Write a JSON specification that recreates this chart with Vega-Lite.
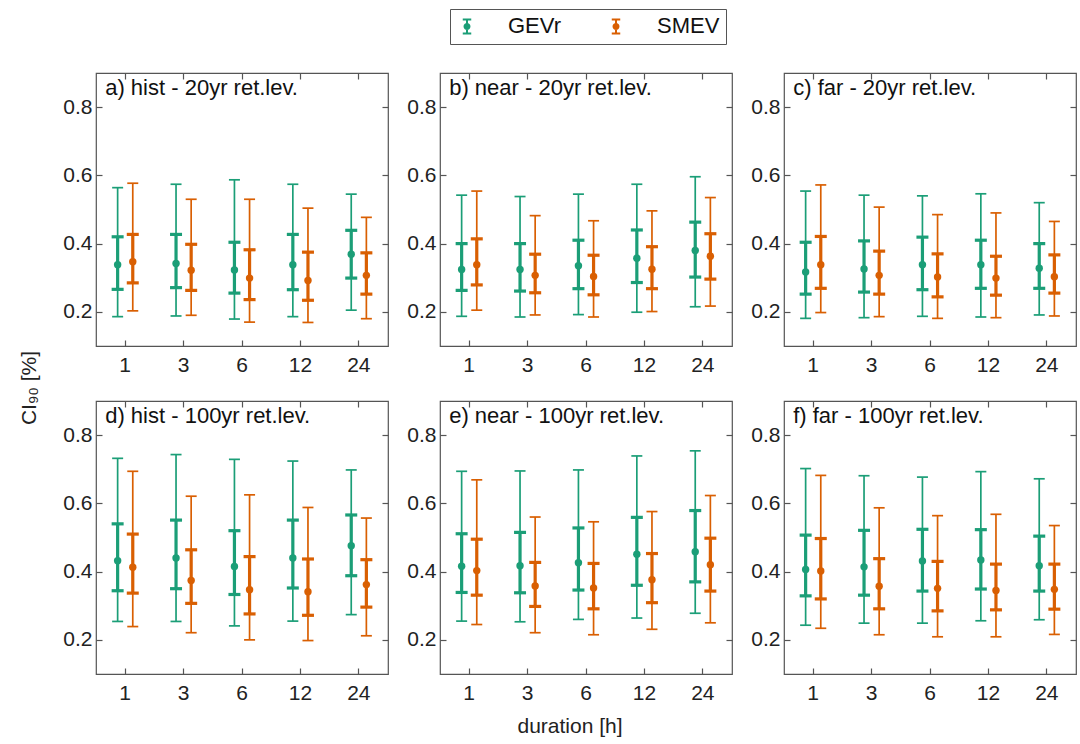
{
  "$schema": "https://vega.github.io/schema/vega-lite/v6.json",
  "background": "white",
  "padding": {"left": 19, "top": 8, "right": 5, "bottom": 5},
  "data": {"values": [
    {"period":"hist","rl":"20yr","panel":"a) hist - 20yr ret.lev.","d":"1","model":"GEVr","lo":0.186,"q1":0.266,"med":0.338,"q3":0.420,"hi":0.564},
    {"period":"hist","rl":"20yr","panel":"a) hist - 20yr ret.lev.","d":"1","model":"SMEV","lo":0.203,"q1":0.285,"med":0.347,"q3":0.427,"hi":0.577},
    {"period":"hist","rl":"20yr","panel":"a) hist - 20yr ret.lev.","d":"3","model":"GEVr","lo":0.188,"q1":0.271,"med":0.342,"q3":0.427,"hi":0.574},
    {"period":"hist","rl":"20yr","panel":"a) hist - 20yr ret.lev.","d":"3","model":"SMEV","lo":0.190,"q1":0.263,"med":0.322,"q3":0.398,"hi":0.530},
    {"period":"hist","rl":"20yr","panel":"a) hist - 20yr ret.lev.","d":"6","model":"GEVr","lo":0.179,"q1":0.255,"med":0.323,"q3":0.404,"hi":0.587},
    {"period":"hist","rl":"20yr","panel":"a) hist - 20yr ret.lev.","d":"6","model":"SMEV","lo":0.170,"q1":0.236,"med":0.299,"q3":0.382,"hi":0.530},
    {"period":"hist","rl":"20yr","panel":"a) hist - 20yr ret.lev.","d":"12","model":"GEVr","lo":0.186,"q1":0.265,"med":0.338,"q3":0.427,"hi":0.574},
    {"period":"hist","rl":"20yr","panel":"a) hist - 20yr ret.lev.","d":"12","model":"SMEV","lo":0.169,"q1":0.234,"med":0.292,"q3":0.375,"hi":0.504},
    {"period":"hist","rl":"20yr","panel":"a) hist - 20yr ret.lev.","d":"24","model":"GEVr","lo":0.205,"q1":0.299,"med":0.369,"q3":0.439,"hi":0.545},
    {"period":"hist","rl":"20yr","panel":"a) hist - 20yr ret.lev.","d":"24","model":"SMEV","lo":0.180,"q1":0.252,"med":0.307,"q3":0.373,"hi":0.477},

    {"period":"near","rl":"20yr","panel":"b) near - 20yr ret.lev.","d":"1","model":"GEVr","lo":0.187,"q1":0.263,"med":0.324,"q3":0.400,"hi":0.542},
    {"period":"near","rl":"20yr","panel":"b) near - 20yr ret.lev.","d":"1","model":"SMEV","lo":0.205,"q1":0.279,"med":0.338,"q3":0.414,"hi":0.554},
    {"period":"near","rl":"20yr","panel":"b) near - 20yr ret.lev.","d":"3","model":"GEVr","lo":0.185,"q1":0.261,"med":0.324,"q3":0.400,"hi":0.538},
    {"period":"near","rl":"20yr","panel":"b) near - 20yr ret.lev.","d":"3","model":"SMEV","lo":0.191,"q1":0.256,"med":0.307,"q3":0.369,"hi":0.482},
    {"period":"near","rl":"20yr","panel":"b) near - 20yr ret.lev.","d":"6","model":"GEVr","lo":0.192,"q1":0.268,"med":0.335,"q3":0.410,"hi":0.545},
    {"period":"near","rl":"20yr","panel":"b) near - 20yr ret.lev.","d":"6","model":"SMEV","lo":0.185,"q1":0.250,"med":0.304,"q3":0.366,"hi":0.467},
    {"period":"near","rl":"20yr","panel":"b) near - 20yr ret.lev.","d":"12","model":"GEVr","lo":0.199,"q1":0.286,"med":0.357,"q3":0.440,"hi":0.574},
    {"period":"near","rl":"20yr","panel":"b) near - 20yr ret.lev.","d":"12","model":"SMEV","lo":0.201,"q1":0.268,"med":0.325,"q3":0.391,"hi":0.496},
    {"period":"near","rl":"20yr","panel":"b) near - 20yr ret.lev.","d":"24","model":"GEVr","lo":0.215,"q1":0.302,"med":0.380,"q3":0.463,"hi":0.596},
    {"period":"near","rl":"20yr","panel":"b) near - 20yr ret.lev.","d":"24","model":"SMEV","lo":0.217,"q1":0.296,"med":0.363,"q3":0.429,"hi":0.535},

    {"period":"far","rl":"20yr","panel":"c) far - 20yr ret.lev.","d":"1","model":"GEVr","lo":0.181,"q1":0.252,"med":0.317,"q3":0.404,"hi":0.554},
    {"period":"far","rl":"20yr","panel":"c) far - 20yr ret.lev.","d":"1","model":"SMEV","lo":0.198,"q1":0.269,"med":0.338,"q3":0.421,"hi":0.572},
    {"period":"far","rl":"20yr","panel":"c) far - 20yr ret.lev.","d":"3","model":"GEVr","lo":0.183,"q1":0.258,"med":0.326,"q3":0.408,"hi":0.542},
    {"period":"far","rl":"20yr","panel":"c) far - 20yr ret.lev.","d":"3","model":"SMEV","lo":0.186,"q1":0.252,"med":0.307,"q3":0.378,"hi":0.507},
    {"period":"far","rl":"20yr","panel":"c) far - 20yr ret.lev.","d":"6","model":"GEVr","lo":0.187,"q1":0.265,"med":0.338,"q3":0.419,"hi":0.540},
    {"period":"far","rl":"20yr","panel":"c) far - 20yr ret.lev.","d":"6","model":"SMEV","lo":0.181,"q1":0.244,"med":0.302,"q3":0.370,"hi":0.485},
    {"period":"far","rl":"20yr","panel":"c) far - 20yr ret.lev.","d":"12","model":"GEVr","lo":0.185,"q1":0.269,"med":0.338,"q3":0.410,"hi":0.546},
    {"period":"far","rl":"20yr","panel":"c) far - 20yr ret.lev.","d":"12","model":"SMEV","lo":0.183,"q1":0.249,"med":0.299,"q3":0.363,"hi":0.490},
    {"period":"far","rl":"20yr","panel":"c) far - 20yr ret.lev.","d":"24","model":"GEVr","lo":0.191,"q1":0.269,"med":0.328,"q3":0.400,"hi":0.520},
    {"period":"far","rl":"20yr","panel":"c) far - 20yr ret.lev.","d":"24","model":"SMEV","lo":0.188,"q1":0.255,"med":0.303,"q3":0.367,"hi":0.465},

    {"period":"hist","rl":"100yr","panel":"d) hist - 100yr ret.lev.","d":"1","model":"GEVr","lo":0.254,"q1":0.344,"med":0.432,"q3":0.540,"hi":0.732},
    {"period":"hist","rl":"100yr","panel":"d) hist - 100yr ret.lev.","d":"1","model":"SMEV","lo":0.239,"q1":0.337,"med":0.413,"q3":0.510,"hi":0.694},
    {"period":"hist","rl":"100yr","panel":"d) hist - 100yr ret.lev.","d":"3","model":"GEVr","lo":0.254,"q1":0.350,"med":0.440,"q3":0.551,"hi":0.743},
    {"period":"hist","rl":"100yr","panel":"d) hist - 100yr ret.lev.","d":"3","model":"SMEV","lo":0.221,"q1":0.307,"med":0.374,"q3":0.464,"hi":0.621},
    {"period":"hist","rl":"100yr","panel":"d) hist - 100yr ret.lev.","d":"6","model":"GEVr","lo":0.241,"q1":0.333,"med":0.415,"q3":0.520,"hi":0.729},
    {"period":"hist","rl":"100yr","panel":"d) hist - 100yr ret.lev.","d":"6","model":"SMEV","lo":0.200,"q1":0.276,"med":0.347,"q3":0.444,"hi":0.625},
    {"period":"hist","rl":"100yr","panel":"d) hist - 100yr ret.lev.","d":"12","model":"GEVr","lo":0.255,"q1":0.352,"med":0.440,"q3":0.551,"hi":0.724},
    {"period":"hist","rl":"100yr","panel":"d) hist - 100yr ret.lev.","d":"12","model":"SMEV","lo":0.198,"q1":0.272,"med":0.341,"q3":0.437,"hi":0.588},
    {"period":"hist","rl":"100yr","panel":"d) hist - 100yr ret.lev.","d":"24","model":"GEVr","lo":0.274,"q1":0.388,"med":0.476,"q3":0.566,"hi":0.698},
    {"period":"hist","rl":"100yr","panel":"d) hist - 100yr ret.lev.","d":"24","model":"SMEV","lo":0.212,"q1":0.296,"med":0.362,"q3":0.435,"hi":0.557},

    {"period":"near","rl":"100yr","panel":"e) near - 100yr ret.lev.","d":"1","model":"GEVr","lo":0.255,"q1":0.339,"med":0.416,"q3":0.511,"hi":0.694},
    {"period":"near","rl":"100yr","panel":"e) near - 100yr ret.lev.","d":"1","model":"SMEV","lo":0.245,"q1":0.331,"med":0.403,"q3":0.495,"hi":0.669},
    {"period":"near","rl":"100yr","panel":"e) near - 100yr ret.lev.","d":"3","model":"GEVr","lo":0.253,"q1":0.338,"med":0.417,"q3":0.515,"hi":0.695},
    {"period":"near","rl":"100yr","panel":"e) near - 100yr ret.lev.","d":"3","model":"SMEV","lo":0.221,"q1":0.298,"med":0.358,"q3":0.427,"hi":0.560},
    {"period":"near","rl":"100yr","panel":"e) near - 100yr ret.lev.","d":"6","model":"GEVr","lo":0.260,"q1":0.346,"med":0.426,"q3":0.528,"hi":0.698},
    {"period":"near","rl":"100yr","panel":"e) near - 100yr ret.lev.","d":"6","model":"SMEV","lo":0.215,"q1":0.291,"med":0.352,"q3":0.424,"hi":0.546},
    {"period":"near","rl":"100yr","panel":"e) near - 100yr ret.lev.","d":"12","model":"GEVr","lo":0.264,"q1":0.360,"med":0.451,"q3":0.559,"hi":0.739},
    {"period":"near","rl":"100yr","panel":"e) near - 100yr ret.lev.","d":"12","model":"SMEV","lo":0.231,"q1":0.309,"med":0.376,"q3":0.453,"hi":0.576},
    {"period":"near","rl":"100yr","panel":"e) near - 100yr ret.lev.","d":"24","model":"GEVr","lo":0.278,"q1":0.370,"med":0.458,"q3":0.579,"hi":0.754},
    {"period":"near","rl":"100yr","panel":"e) near - 100yr ret.lev.","d":"24","model":"SMEV","lo":0.250,"q1":0.343,"med":0.420,"q3":0.498,"hi":0.623},

    {"period":"far","rl":"100yr","panel":"f) far - 100yr ret.lev.","d":"1","model":"GEVr","lo":0.243,"q1":0.329,"med":0.406,"q3":0.507,"hi":0.702},
    {"period":"far","rl":"100yr","panel":"f) far - 100yr ret.lev.","d":"1","model":"SMEV","lo":0.234,"q1":0.320,"med":0.402,"q3":0.497,"hi":0.682},
    {"period":"far","rl":"100yr","panel":"f) far - 100yr ret.lev.","d":"3","model":"GEVr","lo":0.249,"q1":0.331,"med":0.414,"q3":0.521,"hi":0.681},
    {"period":"far","rl":"100yr","panel":"f) far - 100yr ret.lev.","d":"3","model":"SMEV","lo":0.215,"q1":0.291,"med":0.357,"q3":0.438,"hi":0.587},
    {"period":"far","rl":"100yr","panel":"f) far - 100yr ret.lev.","d":"6","model":"GEVr","lo":0.249,"q1":0.343,"med":0.431,"q3":0.524,"hi":0.677},
    {"period":"far","rl":"100yr","panel":"f) far - 100yr ret.lev.","d":"6","model":"SMEV","lo":0.209,"q1":0.285,"med":0.351,"q3":0.430,"hi":0.564},
    {"period":"far","rl":"100yr","panel":"f) far - 100yr ret.lev.","d":"12","model":"GEVr","lo":0.256,"q1":0.349,"med":0.434,"q3":0.523,"hi":0.693},
    {"period":"far","rl":"100yr","panel":"f) far - 100yr ret.lev.","d":"12","model":"SMEV","lo":0.209,"q1":0.288,"med":0.345,"q3":0.422,"hi":0.568},
    {"period":"far","rl":"100yr","panel":"f) far - 100yr ret.lev.","d":"24","model":"GEVr","lo":0.259,"q1":0.343,"med":0.417,"q3":0.504,"hi":0.672},
    {"period":"far","rl":"100yr","panel":"f) far - 100yr ret.lev.","d":"24","model":"SMEV","lo":0.216,"q1":0.290,"med":0.348,"q3":0.422,"hi":0.535}
  ]},
  "facet": {
    "row": {"field": "rl", "type": "nominal", "sort": ["20yr", "100yr"],
      "header": {"labels": false, "title": "CI₉₀ [%]", "titleFontSize": 21, "titleFont": "Liberation Sans", "titleFontWeight": "normal", "titleColor": "#222", "titlePadding": 12}},
    "column": {"field": "period", "type": "nominal", "sort": ["hist", "near", "far"],
      "header": {"labels": false, "title": "duration [h]", "titleOrient": "bottom", "titleFontSize": 21, "titleFont": "Liberation Sans", "titleFontWeight": "normal", "titleColor": "#222", "titlePadding": 2}}
  },
  "spacing": {"row": 23, "column": 16},
  "resolve": {"axis": {"x": "independent", "y": "independent"}},
  "spec": {
    "width": 292,
    "height": 273,
    "resolve": {"axis": {"x": "independent", "y": "independent"}},
    "layer": [
      {
        "mark": {"type": "rule", "strokeWidth": 1.7},
        "encoding": {
          "x": {"field": "d", "type": "nominal", "sort": ["1", "3", "6", "12", "24"],
            "scale": {"type": "band", "paddingInner": 0, "paddingOuter": 0},
            "axis": {"orient": "bottom", "title": null, "labelAngle": 0, "tickSize": -6, "labelPadding": 14, "domain": false}},
          "xOffset": {"field": "model", "type": "nominal", "scale": {"type": "band", "paddingInner": 0, "paddingOuter": 0.93}},
          "y": {"field": "lo", "type": "quantitative",
            "scale": {"domain": [0.1, 0.9], "nice": false, "zero": false},
            "axis": {"orient": "left", "title": null, "values": [0.2, 0.4, 0.6, 0.8], "format": ".1f", "tickSize": -6, "labelPadding": 10, "domain": false, "grid": false}},
          "y2": {"field": "hi"},
          "color": {"field": "model", "type": "nominal",
            "scale": {"domain": ["GEVr", "SMEV"], "range": ["#1b9e77", "#d95f02"]},
            "legend": {
              "orient": "none", "legendX": 354, "legendY": -64, "direction": "horizontal", "title": null,
              "symbolType": "M0,-1V1M-0.6,-1H0.6M-0.6,1H0.6M0.35,0A0.35,0.35 0 1 1 -0.35,0A0.35,0.35 0 1 1 0.35,0Z",
              "symbolSize": 200, "symbolStrokeWidth": 2, "symbolOpacity": 1,
              "labelFontSize": 22, "labelFont": "Liberation Sans", "labelColor": "#111", "labelOffset": 30,
              "columnPadding": 44, "padding": 6, "strokeColor": "#555", "fillColor": "white",
              "encode": {"symbols": {"update": {"stroke": {"scale": "color", "field": "value"}, "fill": {"scale": "color", "field": "value"}}}}
            }}
        }
      },
      {
        "mark": {"type": "tick", "thickness": 1.7, "size": 11, "orient": "horizontal", "opacity": 1},
        "encoding": {
          "x": {"field": "d", "type": "nominal", "sort": ["1", "3", "6", "12", "24"], "axis": null},
          "xOffset": {"field": "model", "type": "nominal"},
          "y": {"field": "lo", "type": "quantitative", "axis": null},
          "color": {"field": "model", "type": "nominal"}
        }
      },
      {
        "mark": {"type": "tick", "thickness": 1.7, "size": 11, "orient": "horizontal", "opacity": 1},
        "encoding": {
          "x": {"field": "d", "type": "nominal", "sort": ["1", "3", "6", "12", "24"], "axis": null},
          "xOffset": {"field": "model", "type": "nominal"},
          "y": {"field": "hi", "type": "quantitative", "axis": null},
          "color": {"field": "model", "type": "nominal"}
        }
      },
      {
        "mark": {"type": "rule", "strokeWidth": 3.2},
        "encoding": {
          "x": {"field": "d", "type": "nominal", "sort": ["1", "3", "6", "12", "24"], "axis": null},
          "xOffset": {"field": "model", "type": "nominal"},
          "y": {"field": "q1", "type": "quantitative", "axis": null},
          "y2": {"field": "q3"},
          "color": {"field": "model", "type": "nominal"}
        }
      },
      {
        "mark": {"type": "tick", "thickness": 3.2, "size": 12, "orient": "horizontal", "opacity": 1},
        "encoding": {
          "x": {"field": "d", "type": "nominal", "sort": ["1", "3", "6", "12", "24"], "axis": null},
          "xOffset": {"field": "model", "type": "nominal"},
          "y": {"field": "q1", "type": "quantitative", "axis": null},
          "color": {"field": "model", "type": "nominal"}
        }
      },
      {
        "mark": {"type": "tick", "thickness": 3.2, "size": 12, "orient": "horizontal", "opacity": 1},
        "encoding": {
          "x": {"field": "d", "type": "nominal", "sort": ["1", "3", "6", "12", "24"], "axis": null},
          "xOffset": {"field": "model", "type": "nominal"},
          "y": {"field": "q3", "type": "quantitative", "axis": null},
          "color": {"field": "model", "type": "nominal"}
        }
      },
      {
        "mark": {"type": "point", "filled": true, "size": 55, "opacity": 1, "shape": "circle"},
        "encoding": {
          "x": {"field": "d", "type": "nominal", "sort": ["1", "3", "6", "12", "24"], "axis": null},
          "xOffset": {"field": "model", "type": "nominal"},
          "y": {"field": "med", "type": "quantitative", "axis": null},
          "color": {"field": "model", "type": "nominal"}
        }
      },
      {
        "transform": [{"filter": "datum.d == '1' && datum.model == 'GEVr'"}],
        "mark": {"type": "text", "align": "left", "baseline": "middle", "fontSize": 22, "font": "Liberation Sans", "color": "#111", "dx": -20},
        "encoding": {
          "x": {"datum": "1", "type": "nominal", "axis": {"orient": "top", "labels": false, "title": null, "tickSize": -6, "domain": false}},
          "y": {"datum": 0.855, "type": "quantitative", "axis": {"orient": "right", "labels": false, "title": null, "values": [0.2, 0.4, 0.6, 0.8], "tickSize": -6, "domain": false, "grid": false}},
          "text": {"field": "panel"}
        }
      }
    ]
  },
  "config": {
    "font": "Liberation Sans",
    "view": {"stroke": "#555", "strokeWidth": 1.2},
    "axis": {"labelFont": "Liberation Sans", "labelFontSize": 21, "labelColor": "#222", "tickColor": "#555", "tickWidth": 1.2}
  }
}
